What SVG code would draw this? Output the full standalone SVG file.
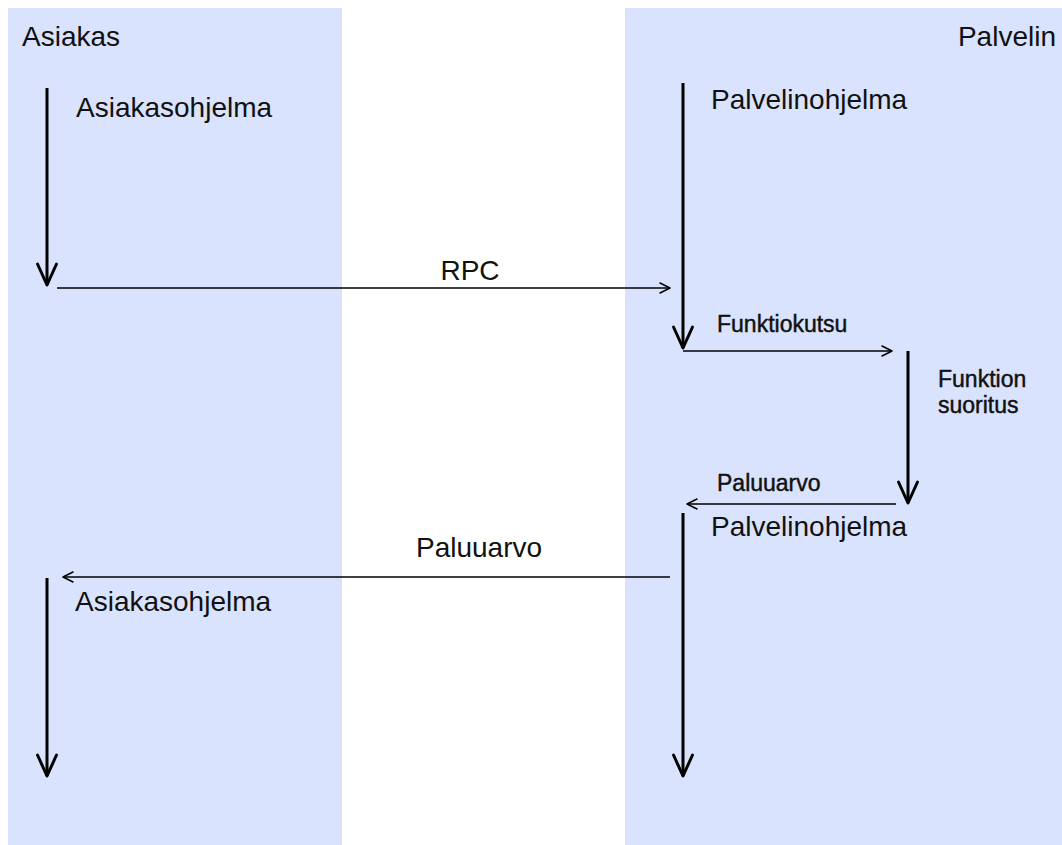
<svg xmlns="http://www.w3.org/2000/svg" width="1062" height="845" viewBox="0 0 1062 845">
  <style>
    .lane { fill: #dae3fd; }
    .big { font-family: "Liberation Sans", Arial, sans-serif; font-size: 28px; fill: #111; }
    .small { font-family: "Liberation Sans", Arial, sans-serif; font-size: 23px; fill: #111; stroke: #111; stroke-width: 0.45; }
    .flow { stroke: #000; stroke-width: 3; fill: none; }
    .msg { stroke: #000; stroke-width: 1.5; fill: none; }
  </style>
  <defs>
    <marker id="headBig" viewBox="-26 -13 30 26" refX="0" refY="0" markerWidth="30" markerHeight="26" markerUnits="userSpaceOnUse" orient="auto">
      <path d="M-21,-9.5 L0,0 L-21,9.5" stroke="#000" stroke-width="3" fill="none" stroke-linejoin="round" stroke-linecap="round"/>
    </marker>
    <marker id="headSmall" viewBox="-14 -8 16 16" refX="0" refY="0" markerWidth="16" markerHeight="16" markerUnits="userSpaceOnUse" orient="auto">
      <path d="M-10,-5 L0,0 L-10,5" stroke="#000" stroke-width="1.5" fill="none" stroke-linejoin="round" stroke-linecap="round"/>
    </marker>
  </defs>

  <!-- swimlanes -->
  <g id="lane-asiakas">
    <rect class="lane" x="8" y="8" width="334" height="837"/>
    <text class="big" x="22" y="46">Asiakas</text>
  </g>
  <g id="lane-palvelin">
    <rect class="lane" x="625" y="8" width="437" height="837"/>
    <text class="big" x="1056" y="46" text-anchor="end">Palvelin</text>
  </g>

  <!-- execution labels -->
  <g id="client-program-1"><text class="big" x="76" y="117">Asiakasohjelma</text></g>
  <g id="server-program-1"><text class="big" x="711" y="109">Palvelinohjelma</text></g>
  <g id="function-exec"><text class="small" x="938" y="387">Funktion</text><text class="small" x="938" y="413">suoritus</text></g>
  <g id="server-program-2"><text class="big" x="711" y="536">Palvelinohjelma</text></g>
  <g id="client-program-2"><text class="big" x="75" y="611">Asiakasohjelma</text></g>

  <!-- connectors -->
  <g id="connectors">
    <line class="flow" x1="47" y1="88" x2="47" y2="285" marker-end="url(#headBig)"/>
    <line class="msg" x1="57" y1="288" x2="670" y2="288" marker-end="url(#headSmall)"/>
    <text class="big" x="470" y="280" text-anchor="middle">RPC</text>

    <line class="flow" x1="683" y1="83" x2="683" y2="348" marker-end="url(#headBig)"/>
    <line class="msg" x1="683" y1="351" x2="892" y2="351" marker-end="url(#headSmall)"/>
    <text class="small" x="717" y="332">Funktiokutsu</text>

    <line class="flow" x1="908" y1="351" x2="908" y2="503" marker-end="url(#headBig)"/>
    <line class="msg" x1="896" y1="504" x2="687" y2="504" marker-end="url(#headSmall)"/>
    <text class="small" x="717" y="491">Paluuarvo</text>

    <line class="flow" x1="683" y1="513" x2="683" y2="776" marker-end="url(#headBig)"/>
    <line class="msg" x1="670" y1="577" x2="63" y2="577" marker-end="url(#headSmall)"/>
    <text class="big" x="479" y="557" text-anchor="middle">Paluuarvo</text>

    <line class="flow" x1="47" y1="578" x2="47" y2="776" marker-end="url(#headBig)"/>
  </g>
</svg>
